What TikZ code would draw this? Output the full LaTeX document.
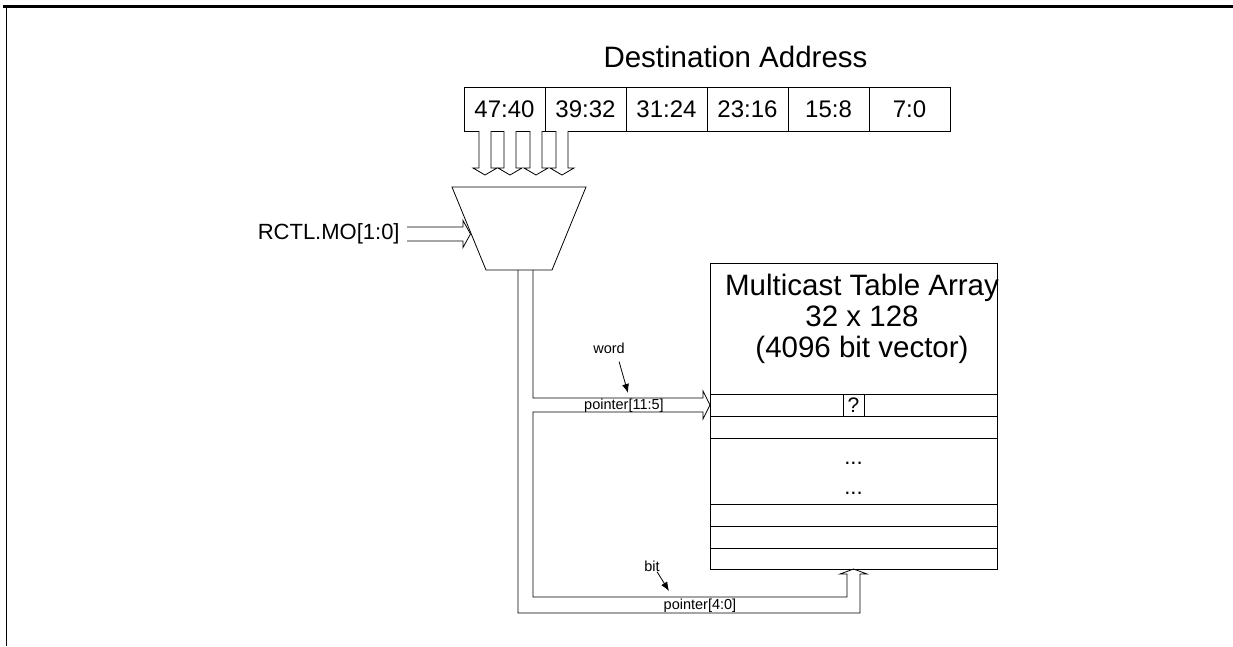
\documentclass[tikz,border=0pt]{standalone}
\usepackage{fontspec}
\setmainfont{Liberation Sans}
\usetikzlibrary{arrows.meta,positioning}

\begin{document}
\begin{tikzpicture}[x=1pt, y=-1pt, line width=0.8pt,
    addr/.style={draw, minimum width=81pt, minimum height=44pt, inner sep=0pt, outer sep=0pt, font=\fontsize{24}{26}\selectfont},
    big/.style={inner sep=0pt, font=\fontsize{29.5}{31}\selectfont},
    small/.style={inner sep=0pt, font=\fontsize{14.5}{16}\selectfont},
    hollow/.style={draw, fill=white, line join=miter}]
    \useasboundingbox (0,0) rectangle (1233,646);

    % frame
    \draw[line width=2.2pt] (3,6.5) -- (1233,6.5);
    \draw[line width=1.8pt] (6.5,6.5) -- (6.5,646);

    % destination address
    \node[big] (dtitle) at (735.5,57) {Destination Address};
    \node[addr] (b4740) at (504.5,109) {47:40};
    \node[addr, right=0pt of b4740] (b3932) {39:32};
    \node[addr, right=0pt of b3932] (b3124) {31:24};
    \node[addr, right=0pt of b3124] (b2316) {23:16};
    \node[addr, right=0pt of b2316] (b158) {15:8};
    \node[addr, right=0pt of b158] (b70) {7:0};

    % byte select arrows
    \foreach \cx in {485,510,536,562}
        \draw[hollow] (\cx-6,131) -- (\cx-6,168) -- (\cx-12,168) -- (\cx,175) -- (\cx+12,168) -- (\cx+6,168) -- (\cx+6,131);

    % mux
    \draw (452,187) -- (586,187) -- (552,270) -- (486,270) -- cycle;
    \node[inner sep=0pt, anchor=east, font=\fontsize{22}{24}\selectfont] (rctl) at (400,234) {RCTL.MO[1:0]};
    \draw[line join=miter] (rctl.east) ++(7,-7) -- (463,227) -- (463,220.5) -- (470.5,234) -- (463,247.5) -- (463,241) -- (407,241);

    % table
    \node[draw, minimum width=287pt, minimum height=306pt, outer sep=0pt] (mta) at (853.5,416) {};
    \foreach \ry in {394,416,438,504,526,548}
        \draw (710,\ry) -- (997,\ry);
    \node[big, align=center] (mtatxt) at (862,319) {Multicast Table Array\\32 x 128\\(4096 bit vector)};
    \node[draw, fill=white, minimum width=21pt, minimum height=22pt, inner sep=0pt, outer sep=0pt, font=\fontsize{21}{22}\selectfont] (bitcell) at (853.5,405) {?};
    \node[inner sep=0pt, anchor=base, font=\fontsize{22}{24}\selectfont] (dots1) at (853.5,464.5) {...};
    \node[inner sep=0pt, anchor=base, font=\fontsize{22}{24}\selectfont] (dots2) at (853.5,494) {...};

    % pointer bus
    \coordinate (wtip) at (mta.west |- bitcell.center);
    \coordinate (btip) at (bitcell.center |- mta.south);
    \draw[line join=miter] (518,270) -- (518,613) -- (860,613) -- (860,574) -- (867,574) -- (btip) -- (840,574) -- (847,574) -- (847,597)
        -- (533,597) -- (533,412) -- (703,412) -- (703,419) -- (wtip) -- (703,391) -- (703,398) -- (533,398) -- (533,270);
    \node[small] (pword) at (624,405.5) {pointer[11:5]};
    \node[small] (pbit) at (700,605.5) {pointer[4:0]};

    % word / bit
    \node[small] (word) at (609,348) {word};
    \node[small] (bit) at (652,566) {bit};
    \coordinate (wordtip) at (628,393);
    \coordinate (bittip) at (669,591);
    \draw[-{Latex[length=9pt,width=7pt]}] ([shift={(-6,8)}]word.south east) -- (wordtip);
    \draw[-{Latex[length=9pt,width=7pt]}] ([shift={(-3,0)}]bit.south east) -- (bittip);
\end{tikzpicture}
\end{document}
